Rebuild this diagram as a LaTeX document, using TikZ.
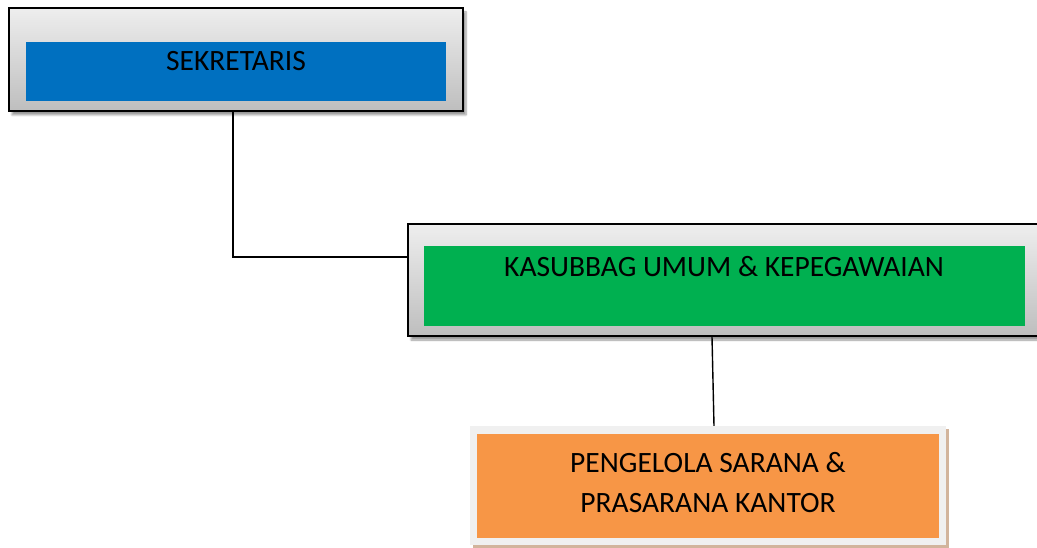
\documentclass[tikz,border=0pt]{standalone}
\usepackage{fontspec}
\setmainfont{Carlito}
\usetikzlibrary{positioning,shadows,shadows.blur}

\definecolor{sekblue}{HTML}{0070C0}
\definecolor{kasgreen}{HTML}{00B050}
\definecolor{pengorange}{HTML}{F79646}
\definecolor{frametop}{HTML}{EEEEEE}
\definecolor{framebot}{HTML}{BEBEBE}
\definecolor{pengframe}{HTML}{F0F0F0}
\definecolor{pengshadow}{HTML}{D2B49C}

\begin{document}
\begin{tikzpicture}[x=1pt, y=-1pt,
  frame/.style={draw=black, line width=1.3pt, inner sep=0pt,
    top color=frametop, bottom color=framebot,
    blur shadow={shadow xshift=3pt, shadow yshift=-4pt, shadow blur steps=6}},
  isi/.style={inner sep=0pt, draw=none},
  lbl/.style={font=\fontsize{29.5}{40}\selectfont, align=center},
  garis/.style={draw=black, line width=1.4pt}]
  \useasboundingbox (0,0) rectangle (1037,548);
  \clip (0,0) rectangle (1037,548);

  % SEKRETARIS
  \node[frame, minimum width=454pt, minimum height=103pt] (sekf) at (236,59.5) {};
  \node[isi, fill=sekblue, minimum width=420pt, minimum height=59pt] (sek) at (236,71.5) {};
  \node[lbl] (sekl) at (236,61) {SEKRETARIS};

  % KASUBBAG
  \node[frame, minimum width=637pt, minimum height=112pt] (kasf) at (726.5,280) {};
  \node[isi, fill=kasgreen, minimum width=601pt, minimum height=80pt] (kas) at (724.5,286) {};
  \node[lbl] (kasl) at (724,267) {KASUBBAG UMUM \& KEPEGAWAIAN};

  % PENGELOLA
  \node[isi, fill=pengframe, minimum width=476pt, minimum height=119pt,
    drop shadow={shadow xshift=3pt, shadow yshift=-3pt, fill=pengshadow, opacity=1}] (pengf) at (708,485.5) {};
  \node[isi, fill=pengorange, minimum width=462pt, minimum height=104pt] (peng) at (708,486) {};
  \node[lbl] (pengl) at (708,483) {PENGELOLA SARANA \&\\PRASARANA KANTOR};

  % garis
  \draw[garis] ([xshift=-3pt]sekf.south) |- ([yshift=23pt]kasf.west);
  \draw[garis] ([xshift=-14.5pt]kasf.south) -- ([xshift=6pt]pengf.north);
\end{tikzpicture}
\end{document}
